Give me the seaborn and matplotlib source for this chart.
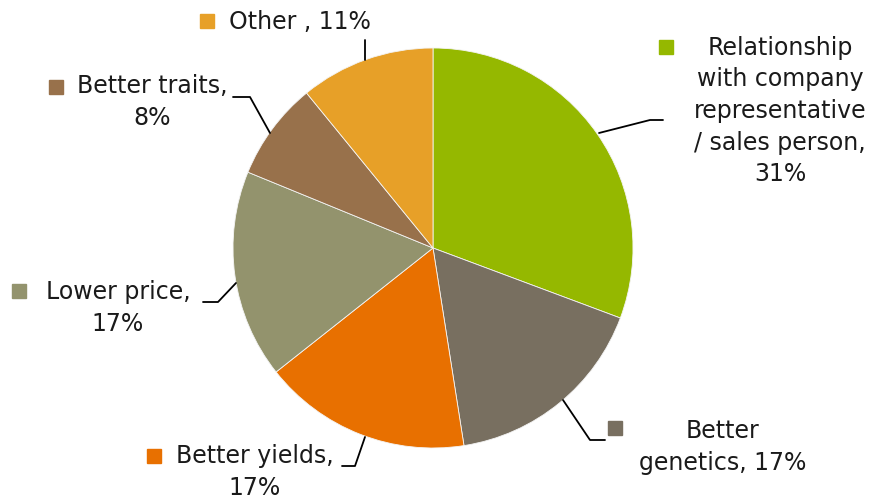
import matplotlib
matplotlib.use("Agg")
import matplotlib.pyplot as plt
import seaborn as sns

categories = ["Relationship\nwith company\nrepresentative\n/ sales person,",
              "Better\ngenetics,", "Better yields,", "Lower price,",
              "Better traits,", "Other ,"]
values = [31, 17, 17, 17, 8, 11]
colors = ["#95B800", "#786F60", "#E87000", "#93936D", "#98714B", "#E7A028"]

sns.set_theme(style="white")
plt.rcParams["font.family"] = ["DejaVu Sans"]

H = 503
fig = plt.figure(figsize=(8.78, 5.03), dpi=100)
ax = fig.add_axes([0, 0, 1, 1])
ax.pie(values, colors=colors, startangle=90, counterclock=False,
       center=(433, H - 248), radius=200,
       wedgeprops=dict(linewidth=0.6, edgecolor="#f4f4f4"))
ax.set_xlim(0, 878)
ax.set_ylim(0, H)
ax.set_aspect("equal")
ax.axis("off")

fs = 17
tc = "#1a1a1a"
label_texts = [
    ("Relationship\nwith company\nrepresentative\n/ sales person,\n31%", 780, 111, 666, 47),
    ("Better\ngenetics, 17%", 723, 447, 615, 428),
    ("Better yields,\n17%", 255, 472, 154, 456),
    ("Lower price,\n17%", 118, 308, 19, 291),
    ("Better traits,\n8%", 152, 102, 56, 87),
    ("Other , 11%", 300, 22, 207, 21),
]
for (txt, x, y, sx, sy), c in zip(label_texts, colors):
    ax.text(x, H - y, txt, ha="center", va="center", fontsize=fs, color=tc,
            multialignment="center", linespacing=1.4)
    ax.plot([sx], [H - sy], marker="s", ms=10, color=c, mec=c)

leaders = [
    ([599, 650, 663], [133, 120, 120]),
    ([563, 590, 605], [400, 440, 440]),
    ([365, 355, 342], [437, 466, 466]),
    ([236, 218, 203], [283, 302, 302]),
    ([270, 250, 233], [133, 97, 97]),
    ([365, 365], [60, 40]),
]
for xs, ys in leaders:
    ax.plot(xs, [H - v for v in ys], color="black", lw=1.3)

fig.savefig("out.png", dpi=100)
